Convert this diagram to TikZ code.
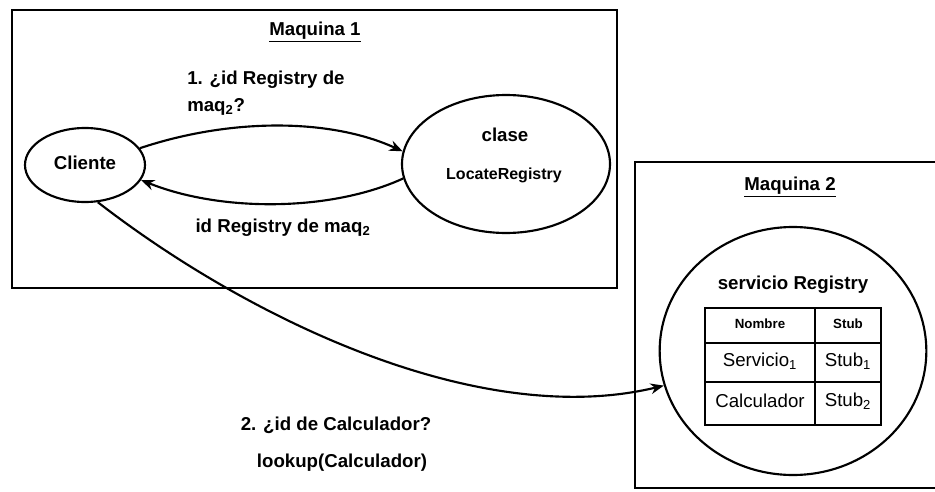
\documentclass[tikz,border=0pt]{standalone}
\usepackage{fontspec}
\setmainfont{Liberation Sans}
\usetikzlibrary{arrows.meta,shapes.geometric}
\begin{document}
\begin{tikzpicture}[x=0.75pt,y=-0.75pt,
  frame/.style={draw,line width=2pt},
  blob/.style={draw,ellipse,line width=1.6pt,inner sep=0pt},
  flow/.style={line width=1.6pt,-{Stealth[length=10pt,width=8pt]}},
  lbl/.style={font=\fontsize{14}{17}\selectfont\bfseries,inner sep=0pt},
  small/.style={font=\fontsize{12}{14}\selectfont\bfseries,inner sep=0pt},
  head/.style={font=\fontsize{10}{12}\selectfont\bfseries,inner sep=0pt},
  cell/.style={font=\fontsize{14}{17}\selectfont,inner sep=0pt},
  grid/.style={draw,line width=1.4pt}]
\useasboundingbox (0,0) rectangle (935,492);

% machine frames
\draw[frame] (12,10) rectangle (617,288);
\draw[frame] (635,162) rectangle (945,488);

% machine 1
\node[lbl] (t1) at (315,32) {\underline{Maquina 1}};
\node[blob,minimum width=90pt,minimum height=55.5pt] (cli) at (85,165) {};
\node[lbl] (clitxt) at (85,163) {Cliente};
\node[blob,minimum width=156pt,minimum height=103.5pt] (loc) at (506,164) {};
\node[lbl] (clase) at (505,135) {clase};
\node[small] (loctxt) at (504,175) {LocateRegistry};

\draw[flow] (cli.17) .. controls (230,118) and (330,118) .. (loc.173);
\draw[flow] (loc.-172) .. controls (330,212) and (220,212) .. (cli.-15);

\node[lbl,anchor=west,align=left,font=\fontsize{14}{20}\selectfont\bfseries]
  (ask1) at (187,93) {1. ¿id Registry de\\maq\textsubscript{2}?};
\node[lbl] (ans1) at (283,228) {id Registry de maq\textsubscript{2}};

% machine 2
\node[lbl] (t2) at (790,187) {\underline{Maquina 2}};
\node[blob,minimum width=200pt,minimum height=186pt] (reg) at (793,351) {};
\node[lbl] (regtxt) at (793,285) {servicio Registry};

% registry table
\draw[grid] (705,308) rectangle (881,425);
\draw[grid] (815,308) -- (815,425);
\draw[grid] (705,343) -- (881,343);
\draw[grid] (705,382) -- (881,382);
\node[head] (hn) at (760,324) {Nombre};
\node[head] (hs) at (848,324) {Stub};
\node[cell] (s1) at (760,361) {Servicio\textsubscript{1}};
\node[cell] (b1) at (848,361) {Stub\textsubscript{1}};
\node[cell] (c2) at (760,401) {Calculador};
\node[cell] (b2) at (848,401) {Stub\textsubscript{2}};

% lookup call
\draw[flow] (cli.-71) .. controls (250,320) and (480,430) .. (reg.195);
\node[lbl] (ask2) at (336,425) {2. ¿id de Calculador?};
\node[lbl] (lk) at (342,463) {lookup(Calculador)};
\end{tikzpicture}
\end{document}
